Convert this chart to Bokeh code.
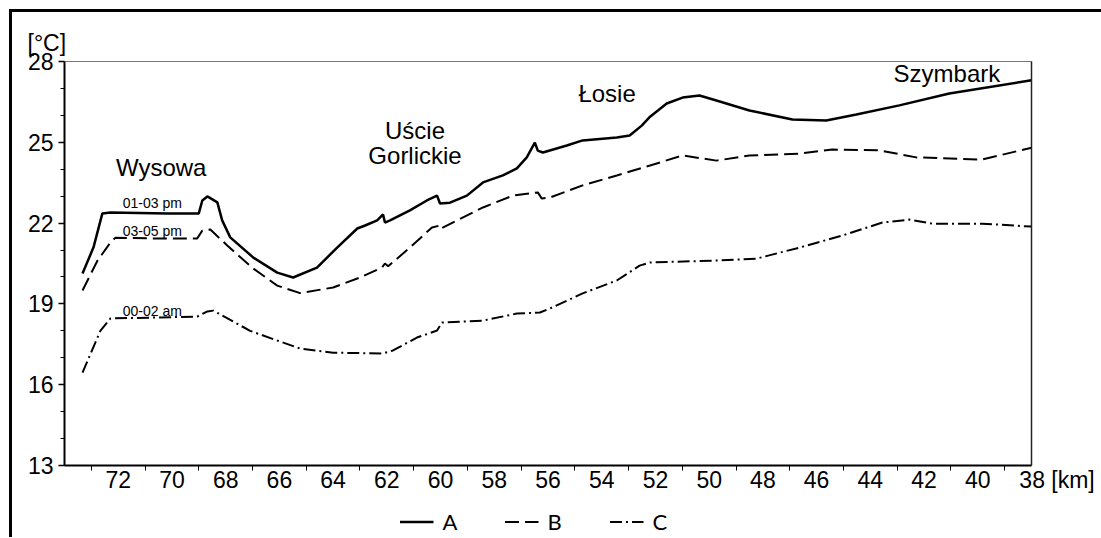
from bokeh.plotting import figure
from bokeh.layouts import column
from bokeh.models import (Range1d, FixedTicker, LinearAxis, Label, Legend, LegendItem, Title)
from bokeh.embed import file_html
from bokeh.resources import INLINE

# ---- data (km along the route, temperature in deg C) ----
km_a = [73.33, 72.92, 72.59, 72.29, 70.17, 69.0, 68.87, 68.68, 68.31, 68.13, 67.83, 66.97,
        66.08, 65.49, 64.6, 63.85, 63.1, 62.81, 62.36, 62.14, 62.07, 61.88, 61.14, 60.51,
        60.13, 60.02, 59.65, 59.02, 58.42, 57.68, 57.16, 56.79, 56.49, 56.38, 56.19, 55.3,
        54.71, 53.44, 52.96, 52.51, 52.2, 51.58, 50.99, 50.36, 49.73, 48.5, 46.9, 45.64,
        44.52, 42.92, 41.06, 38.0]
temp_a = [20.13, 21.1, 22.36, 22.39, 22.36, 22.36, 22.84, 22.99, 22.77, 22.1, 21.47, 20.72,
          20.16, 19.98, 20.35, 21.09, 21.8, 21.91, 22.1, 22.32, 22.02, 22.1, 22.47, 22.84,
          23.02, 22.73, 22.76, 23.02, 23.51, 23.77, 24.03, 24.44, 24.99, 24.69, 24.62, 24.88,
          25.07, 25.18, 25.25, 25.62, 25.95, 26.44, 26.66, 26.74, 26.55, 26.18, 25.85, 25.81,
          26.03, 26.37, 26.81, 27.3]

km_b = [73.33, 72.77, 72.29, 72.1, 70.8, 69.06, 68.87, 68.57, 67.94, 66.97, 66.08, 65.23,
        64.0, 63.0, 62.18, 62.07, 61.95, 61.14, 60.32, 60.02, 59.98, 59.39, 58.42, 57.31,
        56.38, 56.23, 55.93, 54.71, 53.44, 52.2, 50.99, 49.73, 48.5, 46.64, 45.41, 43.67,
        42.29, 39.84, 38.0]
temp_b = [19.5, 20.61, 21.28, 21.46, 21.43, 21.43, 21.72, 21.76, 21.17, 20.31, 19.68, 19.4,
          19.61, 19.98, 20.35, 20.5, 20.4, 21.09, 21.84, 21.91, 21.8, 22.1, 22.58, 23.02,
          23.14, 22.91, 22.95, 23.4, 23.77, 24.14, 24.51, 24.32, 24.51, 24.58, 24.73, 24.7,
          24.44, 24.36, 24.8]

km_c = [73.33, 72.66, 72.29, 70.8, 69.06, 68.68, 68.46, 67.09, 66.08, 65.23, 64.0, 62.14,
        61.77, 60.88, 60.13, 59.95, 58.42, 57.16, 56.3, 55.93, 54.71, 53.44, 52.59, 52.2,
        49.73, 48.24, 46.64, 45.04, 43.55, 42.55, 41.7, 39.84, 38.0]
temp_c = [16.45, 18.01, 18.46, 18.49, 18.53, 18.72, 18.75, 18.0, 17.64, 17.34, 17.19, 17.16,
          17.27, 17.75, 18.01, 18.31, 18.38, 18.64, 18.68, 18.83, 19.39, 19.87, 20.42, 20.54,
          20.61, 20.68, 21.09, 21.54, 22.02, 22.13, 21.98, 21.98, 21.87]

series_names = ["A", "B", "C"]
x_ticks = [72, 70, 68, 66, 64, 62, 60, 58, 56, 54, 52, 50, 48, 46, 44, 42, 40, 38]
x_minor = [73, 71, 69, 67, 65, 63, 61, 59, 57, 55, 53, 51, 49, 47, 45, 43, 41, 39]
y_ticks = [13, 16, 19, 22, 25, 28]
y_minor = [14, 15, 17, 18, 20, 21, 23, 24, 26, 27]

places = ["Wysowa", "Uście", "Gorlickie", "Łosie", "Szymbark"]
place_km = [70.4, 60.95, 60.95, 53.8, 41.15]
place_t = [24.06, 25.44, 24.51, 26.81, 27.55]

times = ["01-03 pm", "03-05 pm", "00-02 am"]
time_km = [70.73, 70.73, 70.73]
time_t = [22.73, 21.69, 18.72]

y_unit = "[°C]"
x_unit = "[km]"

FONT = "Liberation Sans"

p = figure(width=1089, height=493, output_backend="svg", toolbar_location=None,
           x_range=Range1d(74, 38), y_range=Range1d(13, 28),
           min_border_left=52, min_border_top=49, min_border_right=70, min_border_bottom=40,
           x_axis_type=None, y_axis_type=None)
p.background_fill_color = "white"
p.border_fill_color = "white"
p.outline_line_color = "#777777"
p.outline_line_width = 1

xaxis = LinearAxis(ticker=FixedTicker(ticks=x_ticks, minor_ticks=x_minor))
xaxis.axis_line_width = 2
xaxis.axis_line_color = "black"
xaxis.major_tick_out = 0
xaxis.major_tick_in = 0
xaxis.minor_tick_out = 5
xaxis.minor_tick_in = 0
xaxis.minor_tick_line_color = "black"
xaxis.major_label_standoff = -4
xaxis.major_label_text_font = FONT
xaxis.major_label_text_font_size = "23px"
xaxis.major_label_text_color = "black"
pad = "\u00a0" * 8
xaxis.major_label_overrides = {38: pad + "38 " + x_unit}
p.add_layout(xaxis, "below")

yaxis = LinearAxis(ticker=FixedTicker(ticks=y_ticks, minor_ticks=y_minor))
yaxis.axis_line_width = 2
yaxis.axis_line_color = "black"
yaxis.major_tick_out = 6
yaxis.major_tick_in = 0
yaxis.major_tick_line_width = 1.5
yaxis.minor_tick_out = 4
yaxis.minor_tick_in = 0
yaxis.minor_tick_line_color = "black"
yaxis.major_label_standoff = 5
yaxis.major_label_text_font = FONT
yaxis.major_label_text_font_size = "23px"
yaxis.major_label_text_color = "black"
p.add_layout(yaxis, "left")

raxis = LinearAxis(ticker=FixedTicker(ticks=[]))
raxis.axis_line_width = 1.5
raxis.axis_line_color = "#222222"
raxis.major_label_text_font_size = "0px"
raxis.major_tick_out = 0
raxis.minor_tick_out = 0
p.add_layout(raxis, "right")

p.add_layout(Title(text=y_unit, align="left", offset=-37, vertical_align="middle",
                   text_font=FONT, text_font_size="23px", text_font_style="normal",
                   text_color="black"), "above")

p.ygrid.ticker = FixedTicker(ticks=[16, 19, 22, 25])
p.ygrid.grid_line_color = "#666666"
p.ygrid.grid_line_width = 1
p.xgrid.visible = False

styles = [dict(line_width=2.5), dict(line_width=2, line_dash="14 6"),
          dict(line_width=2, line_dash="12 4 2 4")]
p.line(km_a, temp_a, line_color="black", **styles[0])
p.line(km_b, temp_b, line_color="black", **styles[1])
p.line(km_c, temp_c, line_color="black", **styles[2])

for name, kx, ty in zip(places, place_km, place_t):
    p.add_layout(Label(x=kx, y=ty, text=name, text_align="center", text_baseline="middle",
                       text_font=FONT, text_font_size="24px", text_color="black"))

for name, kx, ty in zip(times, time_km, time_t):
    p.add_layout(Label(x=kx, y=ty, text=name, text_align="center", text_baseline="middle",
                       text_font=FONT, text_font_size="14px", text_color="black"))

# legend strip under the chart (sample renderers kept outside the visible range)
lg = figure(width=1066, height=32, output_backend="svg", toolbar_location=None,
            x_range=Range1d(0, 1), y_range=Range1d(0, 1), min_border=0,
            x_axis_type=None, y_axis_type=None)
lg.outline_line_color = None
lg.xgrid.visible = False
lg.ygrid.visible = False
items = []
for name, st in zip(series_names, styles):
    r = lg.line([-3, -2], [-3, -2], line_color="black", **st)
    items.append(LegendItem(label=name, renderers=[r]))
legend = Legend(items=items, orientation="horizontal", location="center")
legend.glyph_width = 34
legend.label_standoff = 9
legend.spacing = 42
legend.padding = 2
legend.margin = 0
legend.border_line_alpha = 0
legend.background_fill_alpha = 0
legend.label_text_font = "Lato"
legend.label_text_font_size = "22px"
legend.label_text_color = "black"
lg.add_layout(legend, "center")

layout = column(p, lg, margin=(9, 0, 0, 9),
                styles={"border-left": "3px solid black", "border-top": "3px solid black"})

open("out.html", "w").write(file_html(layout, INLINE))
